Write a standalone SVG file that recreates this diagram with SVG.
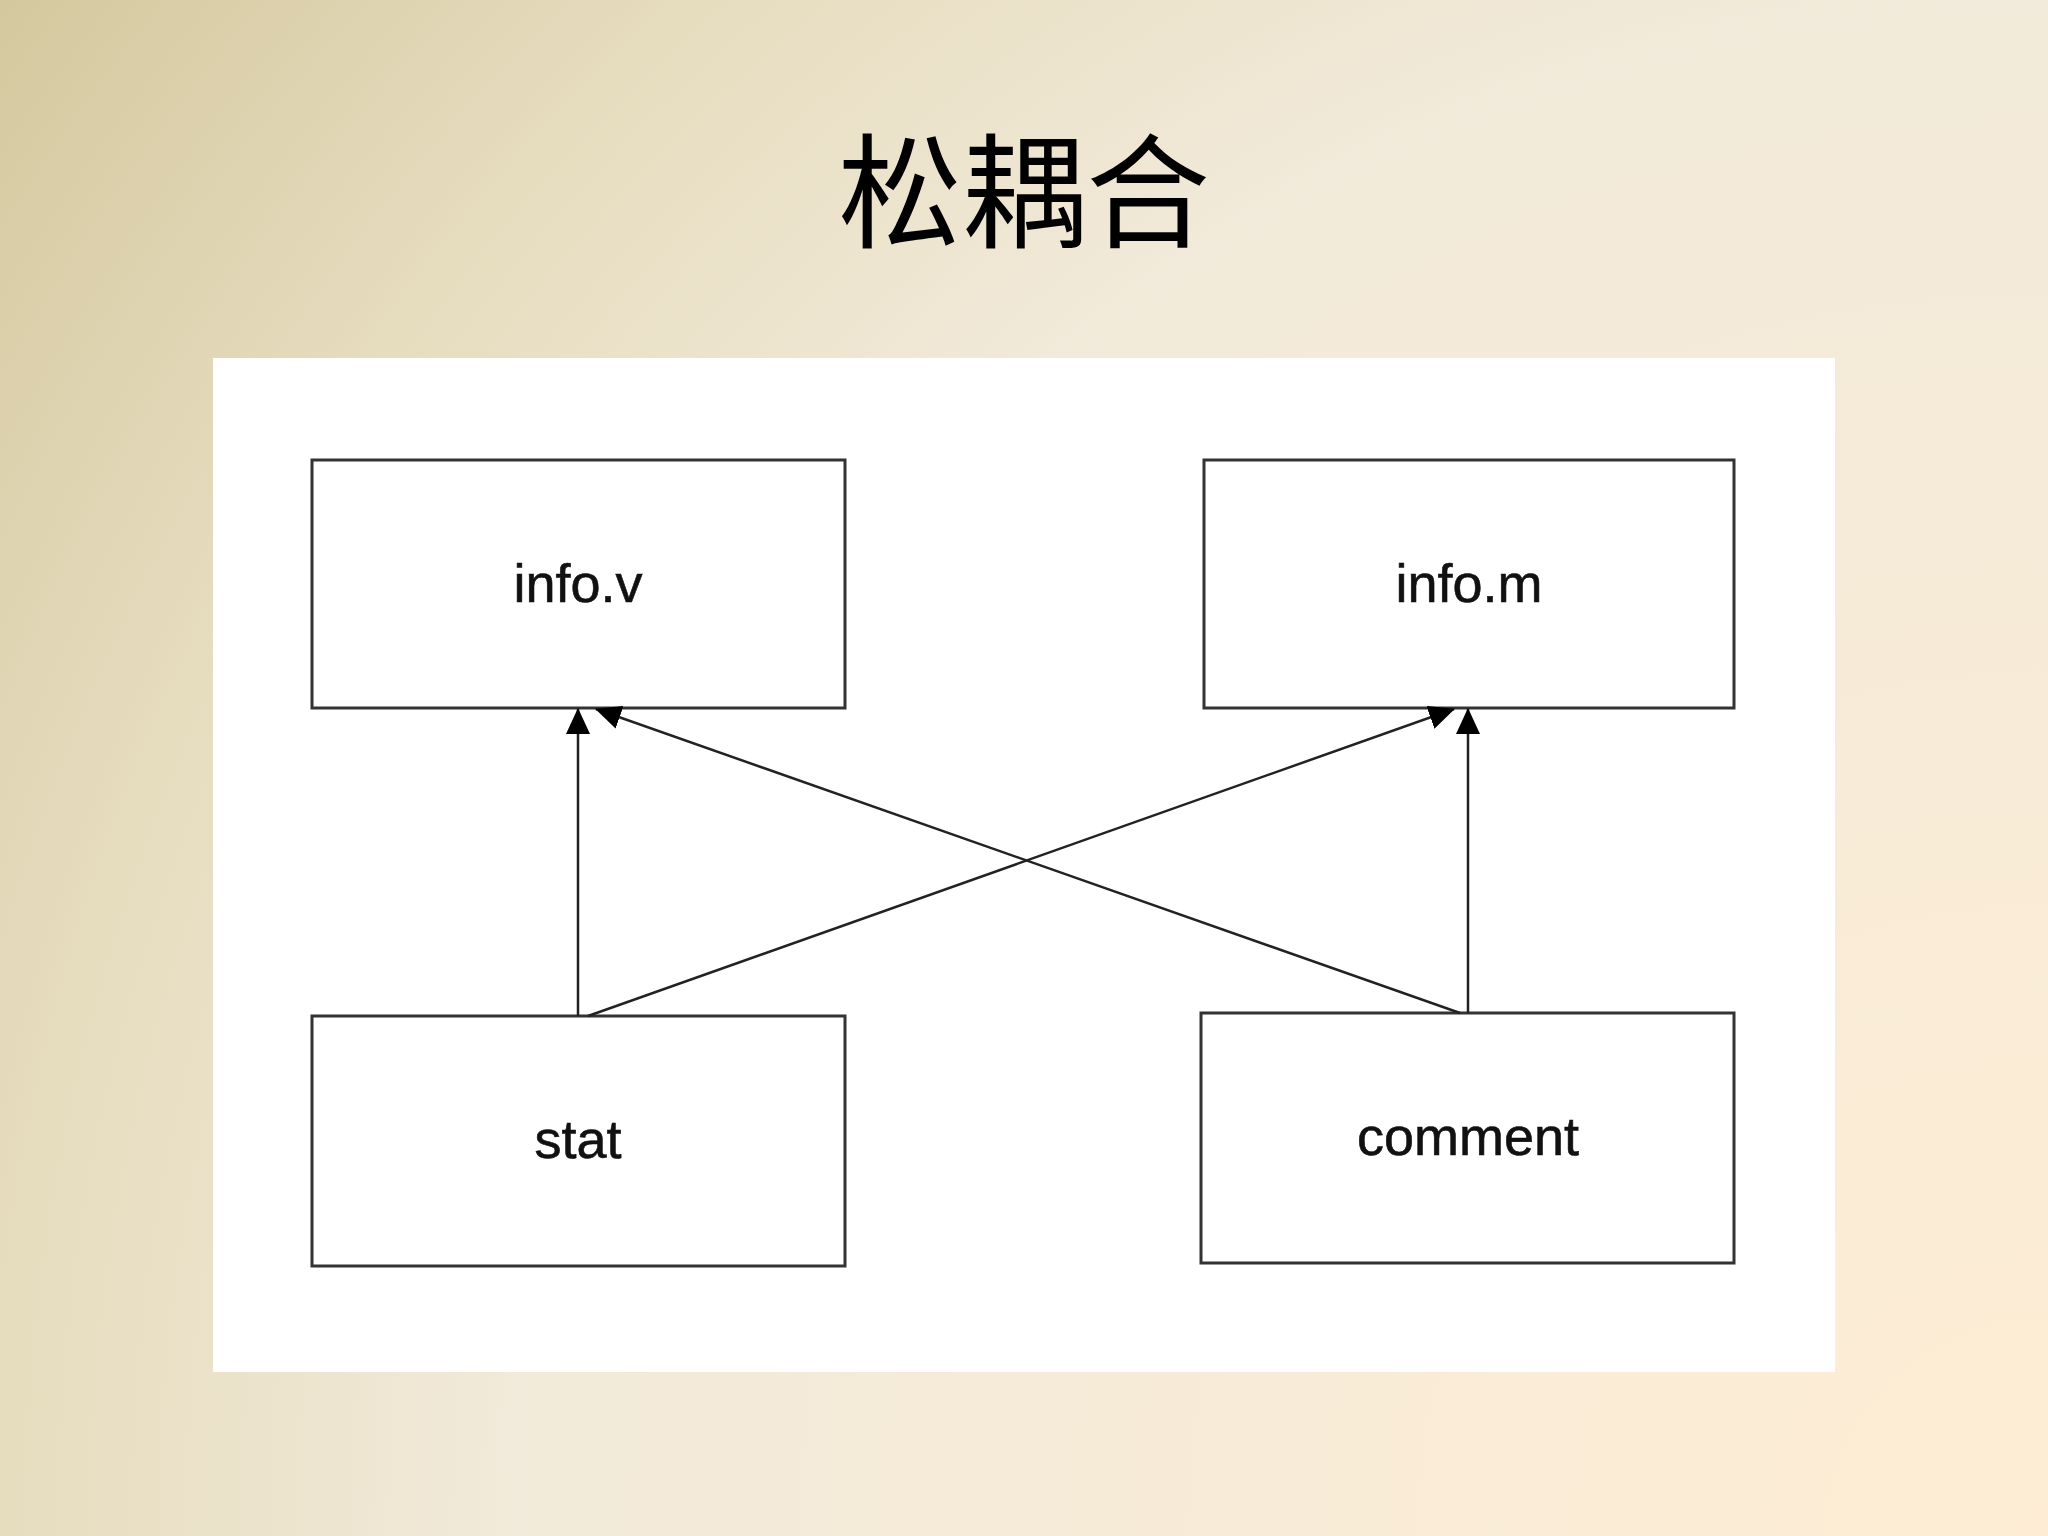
<svg xmlns="http://www.w3.org/2000/svg" width="2048" height="1536" viewBox="0 0 2048 1536">
<defs>
<radialGradient id="bg" gradientUnits="userSpaceOnUse" cx="2048" cy="1536" r="2560">
<stop offset="0" stop-color="#feedd4"/>
<stop offset="0.6" stop-color="#f2eada"/>
<stop offset="0.8" stop-color="#e6dcbe"/>
<stop offset="1" stop-color="#d4c89e"/>
</radialGradient>
<marker id="arr" markerUnits="userSpaceOnUse" markerWidth="28" markerHeight="26" refX="25" refY="12" orient="auto">
<path d="M0,0 L26,12 L0,24 Z" fill="#000"/>
</marker>
<style>
.box{fill:#fff;stroke:#333;stroke-width:3}
.lbl{font-family:"Liberation Sans",Arial,sans-serif;font-size:54px;fill:#111;stroke:#111;stroke-width:0.6;text-anchor:middle}
.con{stroke:#222;stroke-width:2.5;fill:none}
</style>
</defs>
<rect x="0" y="0" width="2048" height="1536" fill="url(#bg)"/>
<text x="1024" y="238" font-family="'Noto Sans CJK SC','Noto Sans CJK TC',sans-serif" font-size="124" fill="#000" text-anchor="middle">松耦合</text>
<rect x="213" y="358" width="1622" height="1014" fill="#fff"/>
<g id="info-v"><rect class="box" x="312" y="460" width="533" height="248"/><text class="lbl" x="578" y="602">info.v</text></g>
<g id="info-m"><rect class="box" x="1204" y="460" width="530" height="248"/><text class="lbl" x="1469" y="602">info.m</text></g>
<g id="stat"><rect class="box" x="312" y="1016" width="533" height="250"/><text class="lbl" x="578" y="1158">stat</text></g>
<g id="comment"><rect class="box" x="1201" y="1013" width="533" height="250"/><text class="lbl" x="1468" y="1155">comment</text></g>
<g id="connectors">
<line class="con" x1="578" y1="1016" x2="578" y2="709" marker-end="url(#arr)"/>
<line class="con" x1="588" y1="1016" x2="1454" y2="709" marker-end="url(#arr)"/>
<line class="con" x1="1468" y1="1013" x2="1468" y2="709" marker-end="url(#arr)"/>
<line class="con" x1="1460" y1="1013" x2="596" y2="709" marker-end="url(#arr)"/>
</g>
</svg>
